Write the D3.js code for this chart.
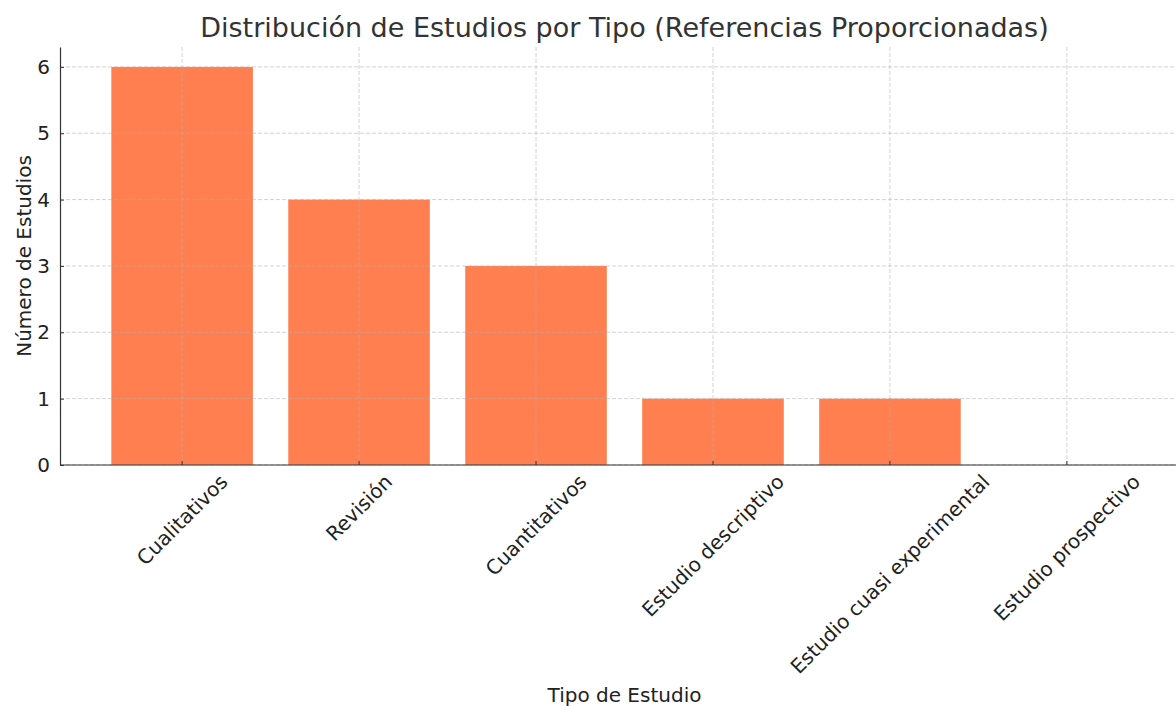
<!DOCTYPE html>
<html>
<head>
<meta charset="utf-8">
<script src="https://cdn.jsdelivr.net/npm/d3@7"></script>
<style>
  body { margin: 0; background: #fff; }
  text { font-family: "DejaVu Sans", sans-serif; fill: #333; }
</style>
</head>
<body>
<div id="chart"></div>
<script>
const categories = ["Cualitativos", "Revisión", "Cuantitativos", "Estudio descriptivo", "Estudio cuasi experimental", "Estudio prospectivo"];
const counts = [6, 4, 3, 1, 1, 0];
const yTicks = [0, 1, 2, 3, 4, 5, 6];

const W = 1176, H = 706;
const margin = { left: 60, top: 47, bottom: 241 };
const plotRight = 1189; // axis runs past the window edge

const svg = d3.select("#chart").append("svg")
  .attr("width", W).attr("height", H);

const x = d3.scaleBand()
  .domain(categories)
  .range([margin.left + 0.19 * 177, plotRight - 0.19 * 177])
  .paddingInner(0.2)
  .paddingOuter(0.1);

const y = d3.scaleLinear()
  .domain([0, 6.3])
  .range([H - margin.bottom, margin.top]);

// bars
svg.append("g").selectAll("rect")
  .data(categories)
  .join("rect")
  .attr("x", d => x(d))
  .attr("width", x.bandwidth())
  .attr("y", (d, i) => y(counts[i]))
  .attr("height", (d, i) => y(0) - y(counts[i]))
  .attr("fill", "#ff7f50");

// grid
const grid = svg.append("g")
  .attr("stroke", "#b0b0b0")
  .attr("stroke-opacity", 0.7)
  .attr("stroke-dasharray", "4,2")
  .attr("stroke-width", 0.8);
grid.selectAll(".gy").data(yTicks).join("line")
  .attr("x1", margin.left).attr("x2", plotRight)
  .attr("y1", d => y(d)).attr("y2", d => y(d));
grid.selectAll(".gx").data(categories).join("line")
  .attr("x1", d => x(d) + x.bandwidth() / 2).attr("x2", d => x(d) + x.bandwidth() / 2)
  .attr("y1", y(0)).attr("y2", margin.top);

// y axis
const yAxis = svg.append("g")
  .attr("transform", `translate(${margin.left},0)`)
  .call(d3.axisLeft(y).tickValues(yTicks).tickFormat(d3.format("d")).tickSizeInner(-4).tickSizeOuter(0).tickPadding(10));
yAxis.select(".domain").attr("stroke", "#333").attr("stroke-width", 1.2);
yAxis.selectAll(".tick line").attr("stroke", "#333");
yAxis.selectAll("text").attr("font-size", 20).style("fill", "#222");

// x axis (spine drawn across the full plot width)
const xAxis = svg.append("g")
  .attr("transform", `translate(0,${y(0)})`)
  .call(d3.axisBottom(x).tickSizeInner(-4).tickSizeOuter(0).tickFormat(""));
xAxis.select(".domain").remove();
xAxis.append("line")
  .attr("x1", margin.left).attr("x2", plotRight)
  .attr("stroke", "#333").attr("stroke-width", 1.2);
xAxis.selectAll(".tick line").attr("stroke", "#333");

// rotated tick labels, bbox centred on tick, top just below axis
const labels = svg.append("g");
categories.forEach(c => {
  const cx = x(c) + x.bandwidth() / 2;
  const t = labels.append("text")
    .attr("font-size", 20)
    .attr("text-anchor", "middle")
    .attr("dominant-baseline", "central")
    .style("fill", "#222")
    .text(c);
  const L = t.node().getComputedTextLength();
  const h = 20;
  const cy = y(0) + 6 + (L + h) * Math.SQRT1_2 / 2;
  t.attr("transform", `translate(${cx},${cy}) rotate(-45)`);
});

// titles
svg.append("text")
  .attr("x", (margin.left + plotRight) / 2).attr("y", 37)
  .attr("text-anchor", "middle")
  .attr("font-size", 27)
  .text("Distribución de Estudios por Tipo (Referencias Proporcionadas)");

svg.append("text")
  .attr("x", (margin.left + plotRight) / 2).attr("y", 702)
  .attr("text-anchor", "middle")
  .attr("font-size", 20)
  .style("fill", "#222")
  .text("Tipo de Estudio");

svg.append("text")
  .attr("transform", `translate(31,${(y(0) + margin.top) / 2}) rotate(-90)`)
  .attr("text-anchor", "middle")
  .attr("font-size", 20)
  .style("fill", "#222")
  .text("Número de Estudios");
</script>
</body>
</html>
